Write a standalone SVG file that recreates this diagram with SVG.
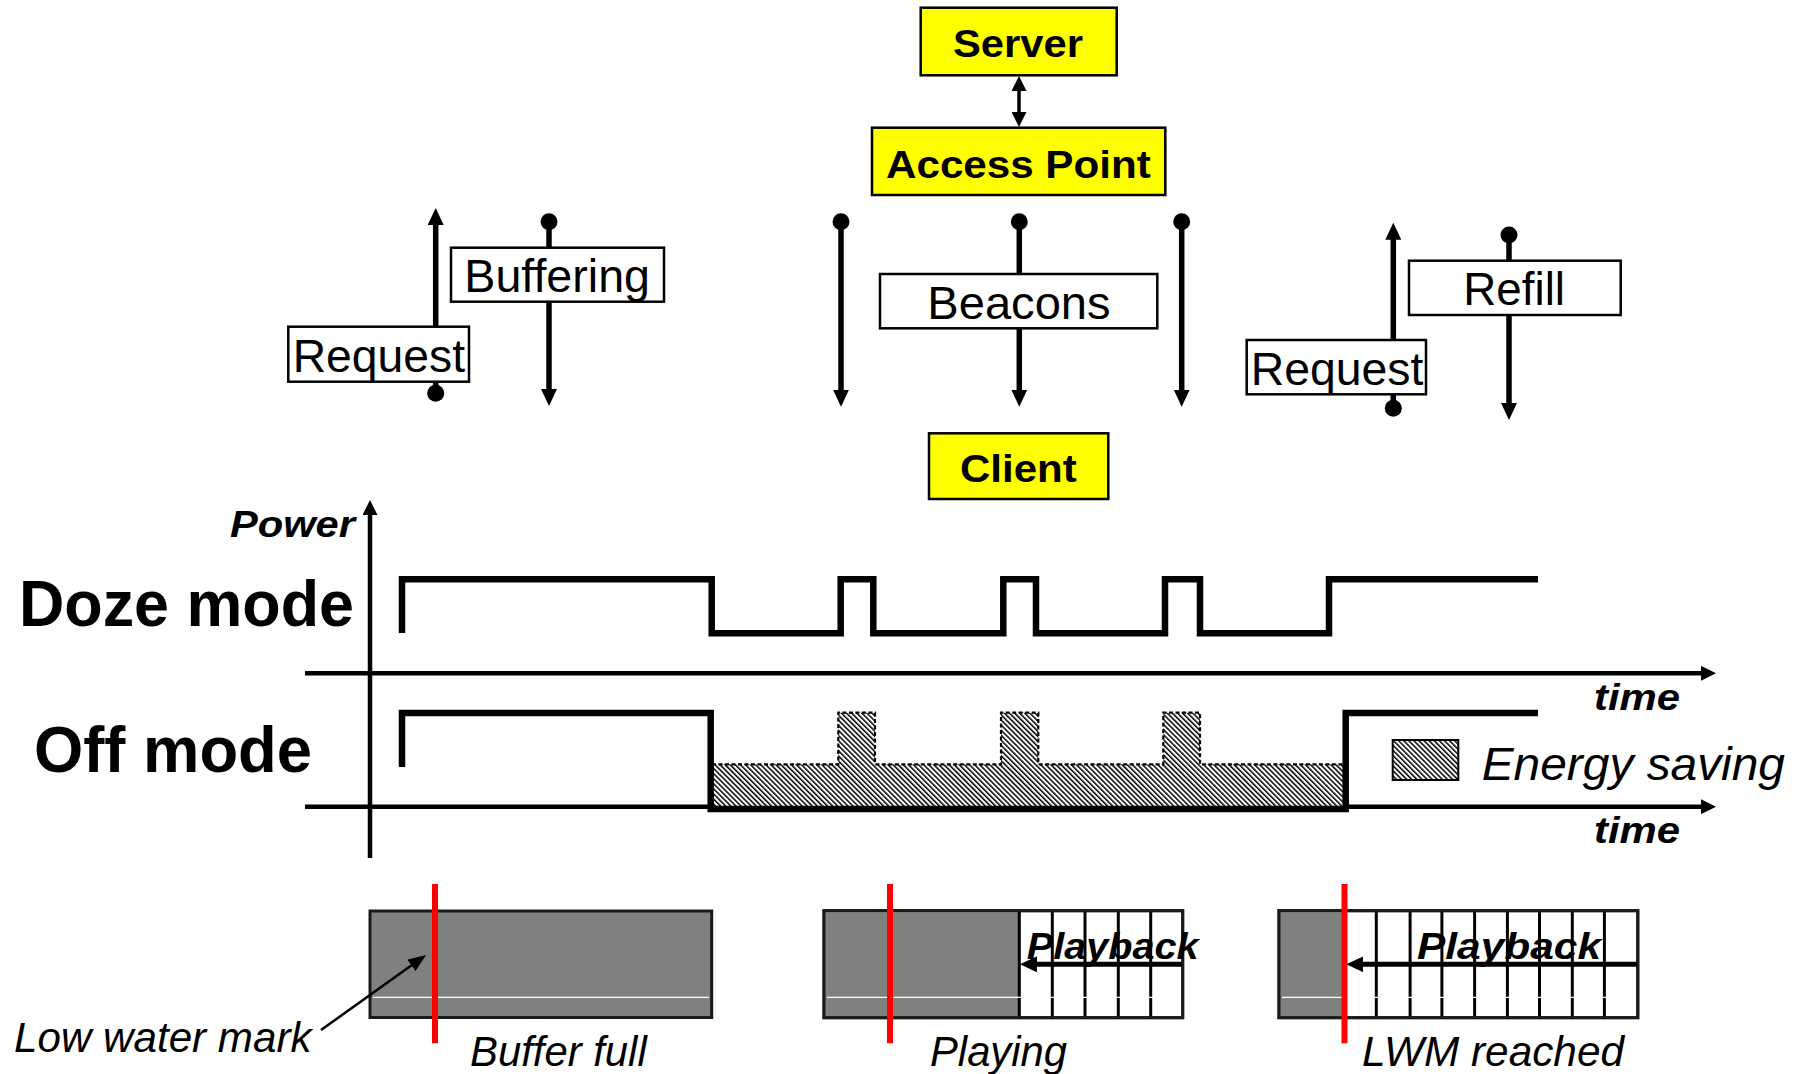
<svg xmlns="http://www.w3.org/2000/svg" width="1801" height="1074" viewBox="0 0 1801 1074">
  <style>
    text { font-family: "Liberation Sans", Arial, sans-serif; fill: #000; }
    .b { font-weight: bold; }
    .i { font-style: italic; }
    .node { fill: #ffff00; stroke: #000; stroke-width: 2.5; }
    .lbl { fill: #fff; stroke: #000; stroke-width: 2.5; }
    .msg { fill: none; stroke: #000; stroke-width: 5.5; }
    .axis { fill: none; stroke: #000; stroke-width: 4.5; }
    .sig { fill: none; stroke: #000; stroke-width: 6.5; stroke-linejoin: miter; }
    .buf { fill: #808080; stroke: #1a1a1a; stroke-width: 3; }
    .cell { fill: #fff; stroke: #1a1a1a; stroke-width: 3; }
    .div { stroke: #000; stroke-width: 3; }
    .shine { stroke: #fff; stroke-width: 1.2; }
    .lwm { stroke: #ff0000; stroke-width: 6; }
  </style>
  <defs>
    <marker id="head" viewBox="0 0 17 16" refX="5" refY="8" markerWidth="17" markerHeight="16" markerUnits="userSpaceOnUse" orient="auto">
      <path d="M0,0 L17,8 L0,16 Z" fill="#000"/>
    </marker>
    <marker id="headSmall" viewBox="0 0 15 15" refX="5" refY="7.5" markerWidth="15" markerHeight="15" markerUnits="userSpaceOnUse" orient="auto-start-reverse">
      <path d="M0,0 L15,7.5 L0,15 Z" fill="#000"/>
    </marker>
    <marker id="headThin" viewBox="0 0 18 14" refX="8" refY="7" markerWidth="18" markerHeight="14" markerUnits="userSpaceOnUse" orient="auto">
      <path d="M0,0 L18,7 L0,14 Z" fill="#000"/>
    </marker>
    <marker id="dot" viewBox="-9 -9 18 18" refX="0" refY="0" markerWidth="18" markerHeight="18" markerUnits="userSpaceOnUse">
      <circle r="8.5" fill="#000"/>
    </marker>
    <pattern id="hatch" patternUnits="userSpaceOnUse" width="3.6" height="10" patternTransform="rotate(-45)">
      <rect width="3.6" height="10" fill="#fff"/>
      <rect width="1.5" height="10" fill="#000"/>
    </pattern>
  </defs>

  <!-- message connectors between server, access point and client -->
  <g id="connectors">
    <path class="msg" style="stroke-width:3.5" d="M1019,86 V117" marker-start="url(#headSmall)" marker-end="url(#headSmall)"/>
    <path class="msg" d="M435.7,393.3 V220" marker-start="url(#dot)" marker-end="url(#head)"/>
    <path class="msg" d="M549,221.7 V394" marker-start="url(#dot)" marker-end="url(#head)"/>
    <path class="msg" d="M841,221.7 V394.7" marker-start="url(#dot)" marker-end="url(#head)"/>
    <path class="msg" d="M1019.3,221.7 V394.7" marker-start="url(#dot)" marker-end="url(#head)"/>
    <path class="msg" d="M1181.7,221.7 V394.7" marker-start="url(#dot)" marker-end="url(#head)"/>
    <path class="msg" d="M1393.3,408.3 V234.7" marker-start="url(#dot)" marker-end="url(#head)"/>
    <path class="msg" d="M1509,235 V408" marker-start="url(#dot)" marker-end="url(#head)"/>
  </g>

  <!-- network entities -->
  <g id="server">
    <rect class="node" x="920.7" y="7.7" width="196" height="67.6"/>
    <text class="b" x="953" y="56.7" font-size="39" textLength="130" lengthAdjust="spacingAndGlyphs">Server</text>
  </g>
  <g id="access-point">
    <rect class="node" x="872" y="127.7" width="293.3" height="67.3"/>
    <text class="b" x="886" y="177.7" font-size="39" textLength="264.7" lengthAdjust="spacingAndGlyphs">Access Point</text>
  </g>
  <g id="client">
    <rect class="node" x="929" y="433.3" width="179.3" height="65.7"/>
    <text class="b" x="960" y="481.7" font-size="39" textLength="116.7" lengthAdjust="spacingAndGlyphs">Client</text>
  </g>

  <!-- message labels -->
  <g id="label-request-1">
    <rect class="lbl" x="288.3" y="326.7" width="180.7" height="55"/>
    <text x="292.7" y="371.7" font-size="47" textLength="172.3" lengthAdjust="spacingAndGlyphs">Request</text>
  </g>
  <g id="label-buffering">
    <rect class="lbl" x="451" y="247.7" width="213" height="54"/>
    <text x="464.3" y="291.7" font-size="47" textLength="185.7" lengthAdjust="spacingAndGlyphs">Buffering</text>
  </g>
  <g id="label-beacons">
    <rect class="lbl" x="880" y="274" width="277.3" height="54.3"/>
    <text x="927.3" y="319" font-size="47" textLength="183.3" lengthAdjust="spacingAndGlyphs">Beacons</text>
  </g>
  <g id="label-request-2">
    <rect class="lbl" x="1246.7" y="340" width="179.3" height="54.3"/>
    <text x="1250.7" y="385" font-size="47" textLength="172.6" lengthAdjust="spacingAndGlyphs">Request</text>
  </g>
  <g id="label-refill">
    <rect class="lbl" x="1409" y="260.7" width="211.7" height="54.3"/>
    <text x="1463.3" y="305" font-size="47" textLength="101.7" lengthAdjust="spacingAndGlyphs">Refill</text>
  </g>

  <!-- power timeline -->
  <g id="power-chart">
    <path class="axis" d="M370,858 V510" marker-end="url(#headSmall)"/>
    <path class="axis" d="M305,673.3 H1706" marker-end="url(#headSmall)"/>
    <path class="axis" d="M305,806.7 H1706" marker-end="url(#headSmall)"/>

    <text class="b i" x="230" y="537" font-size="36" textLength="125" lengthAdjust="spacingAndGlyphs">Power</text>
    <text class="b" x="19" y="625.5" font-size="64" textLength="335" lengthAdjust="spacingAndGlyphs">Doze mode</text>
    <text class="b" x="34" y="772" font-size="64" textLength="278" lengthAdjust="spacingAndGlyphs">Off mode</text>
    <text class="b i" x="1594" y="710" font-size="37" textLength="86" lengthAdjust="spacingAndGlyphs">time</text>
    <text class="b i" x="1594" y="843.3" font-size="37" textLength="86" lengthAdjust="spacingAndGlyphs">time</text>

    <!-- doze mode: client wakes for each beacon -->
    <path class="sig" d="M402,633 V579.3 H711.7 V633.3 H840.7 V579.3 H873.3 V633.3 H1003.3 V579.3 H1036 V633.3 H1165 V579.3 H1200 V633.3 H1329 V579.3 H1538"/>

    <!-- off mode: saved energy shaded -->
    <path fill="url(#hatch)" d="M712,806 V764.3 H838.3 V712.7 H875 V764.3 H1001 V712.7 H1038.3 V764.3 H1163.3 V712.7 H1200 V764.3 H1343 V806 Z"/>
    <path fill="none" stroke="#000" stroke-width="2.2" stroke-dasharray="4 2.5" d="M712,764.3 H838.3 V712.7 H875 V764.3 H1001 V712.7 H1038.3 V764.3 H1163.3 V712.7 H1200 V764.3 H1343"/>
    <path class="sig" d="M402,767 V713 H710.7 V809 H1345.7 V713 H1538"/>

    <rect x="1392.7" y="740" width="65.6" height="40" fill="url(#hatch)" stroke="#000" stroke-width="2"/>
    <text class="i" x="1481.7" y="780" font-size="47" textLength="303.3" lengthAdjust="spacingAndGlyphs">Energy saving</text>
  </g>

  <!-- client buffer states -->
  <g id="buffer-full">
    <rect class="buf" x="370" y="911" width="341.7" height="106.5"/>
    <line class="shine" x1="373" y1="997.3" x2="709" y2="997.3"/>
    <line class="lwm" x1="435" y1="884" x2="435" y2="1043.3"/>
    <line stroke="#000" stroke-width="2.5" x1="321" y1="1030" x2="417.9" y2="960.8" marker-end="url(#headThin)"/>
    <text class="i" x="14" y="1052" font-size="43" textLength="297.5" lengthAdjust="spacingAndGlyphs">Low water mark</text>
    <text class="i" x="470" y="1066" font-size="43" textLength="176.7" lengthAdjust="spacingAndGlyphs">Buffer full</text>
  </g>

  <g id="buffer-playing">
    <rect class="cell" x="824" y="910.7" width="358.7" height="107"/>
    <rect fill="#808080" x="825.5" y="912.2" width="193.8" height="104"/>
    <g class="div">
      <line x1="1019.3" y1="911" x2="1019.3" y2="1017.5"/>
      <line x1="1052.3" y1="911" x2="1052.3" y2="1017.5"/>
      <line x1="1085" y1="911" x2="1085" y2="1017.5"/>
      <line x1="1118.3" y1="911" x2="1118.3" y2="1017.5"/>
      <line x1="1150.7" y1="911" x2="1150.7" y2="1017.5"/>
    </g>
    <line class="shine" x1="827" y1="997.3" x2="1180" y2="997.3"/>
    <rect fill="none" stroke="#1a1a1a" stroke-width="3" x="824" y="910.7" width="358.7" height="107"/>
    <line class="lwm" x1="890" y1="884" x2="890" y2="1043.3"/>
    <path class="msg" style="stroke-width:5" d="M1182,964.3 H1032" marker-end="url(#head)"/>
    <text class="b i" x="1026.7" y="959" font-size="36" textLength="172" lengthAdjust="spacingAndGlyphs">Playback</text>
    <text class="i" x="930" y="1066" font-size="43" textLength="137" lengthAdjust="spacingAndGlyphs">Playing</text>
  </g>

  <g id="buffer-lwm">
    <rect class="cell" x="1279" y="910.7" width="358.8" height="107"/>
    <rect fill="#808080" x="1280.5" y="912.2" width="62.5" height="104"/>
    <g class="div">
      <line x1="1376.3" y1="911" x2="1376.3" y2="1017.5"/>
      <line x1="1410.1" y1="911" x2="1410.1" y2="1017.5"/>
      <line x1="1441.9" y1="911" x2="1441.9" y2="1017.5"/>
      <line x1="1474.6" y1="911" x2="1474.6" y2="1017.5"/>
      <line x1="1507.4" y1="911" x2="1507.4" y2="1017.5"/>
      <line x1="1539.5" y1="911" x2="1539.5" y2="1017.5"/>
      <line x1="1572.3" y1="911" x2="1572.3" y2="1017.5"/>
      <line x1="1604.4" y1="911" x2="1604.4" y2="1017.5"/>
    </g>
    <line class="shine" x1="1282" y1="997.3" x2="1635" y2="997.3"/>
    <rect fill="none" stroke="#1a1a1a" stroke-width="3" x="1279" y="910.7" width="358.8" height="107"/>
    <line class="lwm" x1="1344.5" y1="884" x2="1344.5" y2="1043.3"/>
    <path class="msg" style="stroke-width:5" d="M1637,964.3 H1358.3" marker-end="url(#head)"/>
    <text class="b i" x="1417" y="959" font-size="36" textLength="184" lengthAdjust="spacingAndGlyphs">Playback</text>
    <text class="i" x="1362" y="1066" font-size="43" textLength="262" lengthAdjust="spacingAndGlyphs">LWM reached</text>
  </g>
</svg>
